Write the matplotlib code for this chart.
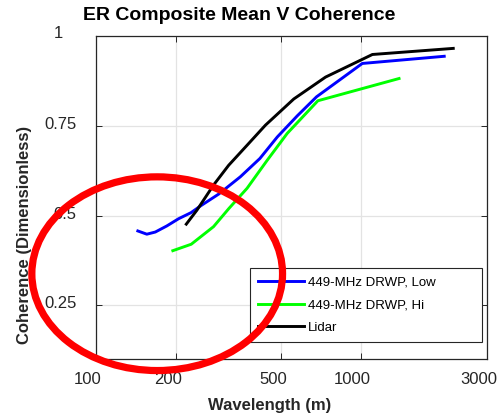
import numpy as np
import matplotlib
matplotlib.use('Agg')
import matplotlib.pyplot as plt
import matplotlib.transforms as mtransforms
from matplotlib.patches import Ellipse

plt.rcParams['font.family'] = ['Liberation Sans', 'DejaVu Sans']

# ========= data =========
low_x = [143.9, 155.6, 167.5, 185.2, 205, 228.5, 248.5, 291, 351, 416, 484, 576, 681, 1014, 2068]
low_y = [0.457, 0.448, 0.454, 0.471, 0.491, 0.508, 0.527, 0.560, 0.608, 0.659, 0.719, 0.778, 0.831, 0.924, 0.944]

hi_x = [195.1, 229, 278, 318, 372.2, 443.3, 527.7, 689, 1396]
hi_y = [0.402, 0.420, 0.469, 0.520, 0.576, 0.654, 0.729, 0.820, 0.882]

lidar_x = [219.3, 240.6, 278, 317, 372.2, 436.7, 558.8, 736.6, 1107, 2237]
lidar_y = [0.476, 0.515, 0.585, 0.640, 0.696, 0.752, 0.825, 0.886, 0.949, 0.966]

x_ticks = [100, 200, 500, 1000, 3000]
y_ticks = [0.25, 0.5, 0.75, 1]
y_tick_labels = ['0.25', '0.5', '0.75', '1']

fig = plt.figure(figsize=(5, 4.16), dpi=100)
ax = fig.add_axes([0.192, 0.137, 0.782, 0.776])

ax.plot(low_x, low_y, color='#0000ff', lw=2.1, label='449-MHz DRWP, Low')
ax.plot(hi_x, hi_y, color='#00ff00', lw=2.1, label='449-MHz DRWP, Hi')
ax.plot(lidar_x, lidar_y, color='k', lw=2.1, label='Lidar')

ax.set_xscale('log')
ax.set_xlim(100, 3000)
ax.set_ylim(0.1, 1)
ax.set_xticks(x_ticks)
ax.set_xticklabels([str(t) for t in x_ticks])
ax.minorticks_off()
ax.set_yticks(y_ticks)
ax.set_yticklabels(y_tick_labels)

ax.grid(True, color='#e3e3e3', lw=0.9)
ax.set_axisbelow(True)
for s in ax.spines.values():
    s.set_color('#262626')
    s.set_linewidth(0.9)
ax.tick_params(direction='in', top=True, right=True, length=4.5, width=0.7,
               colors='#262626', labelsize=12)
ax.tick_params(axis='y', pad=14)
ax.tick_params(axis='x', pad=9)

# tick labels sit a little off their ticks in the original
for lab in ax.get_xticklabels():
    lab.set_transform(lab.get_transform() +
                      mtransforms.ScaledTranslation(-0.08, 0, fig.dpi_scale_trans))
ylabs = ax.get_yticklabels()
for lab in ylabs[:-1]:
    lab.set_transform(lab.get_transform() +
                      mtransforms.ScaledTranslation(0, 0.03, fig.dpi_scale_trans))
ylabs[-1].set_transform(ylabs[-1].get_transform() +
                        mtransforms.ScaledTranslation(-0.14, 0.04, fig.dpi_scale_trans))

leg = ax.legend(loc='lower left', mode='expand',
                bbox_to_anchor=(154 / 391, 17 / 323, 232 / 391, 74 / 323),
                borderaxespad=0, fontsize=9.5,
                handlelength=3.5, handletextpad=0.3, labelspacing=0.8,
                borderpad=0.6, fancybox=False, framealpha=1, edgecolor='#262626')
leg.get_frame().set_linewidth(0.8)

fig.text(0.478, 0.962, 'ER Composite Mean V Coherence', ha='center', va='center',
         fontsize=14, fontweight='bold')
fig.text(0.54, 0.026, 'Wavelength (m)', ha='center', va='center',
         fontsize=12, fontweight='bold', color='#262626')
fig.text(0.05, 0.436, 'Coherence (Dimensionless)', ha='center', va='center',
         rotation=90, fontsize=12, fontweight='bold', color='#262626')

# red circle drawn over the figure
ring = Ellipse((157.2 / 500, 1 - 273.7 / 416), 250.7 / 500, 193.7 / 416,
               transform=fig.transFigure, fill=False, edgecolor='#ff0000', lw=5.2,
               clip_on=False, zorder=10)
fig.patches.append(ring)

fig.savefig('out.png', dpi=100)
